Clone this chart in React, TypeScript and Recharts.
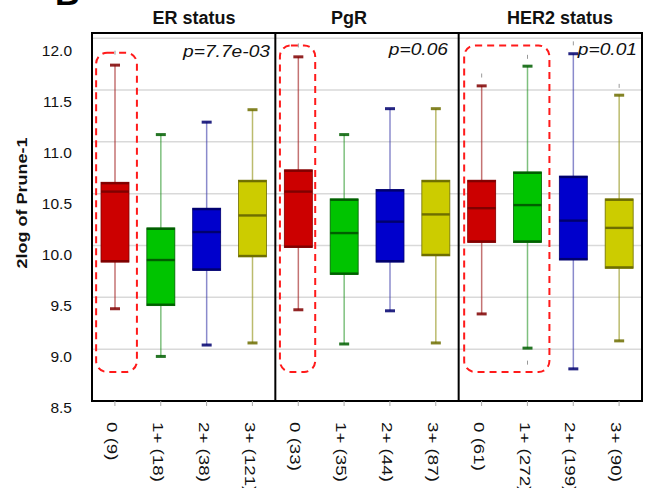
import React from 'react';
import {
  ComposedChart,
  Bar,
  XAxis,
  YAxis,
  CartesianGrid,
  ReferenceArea,
  ReferenceLine,
} from 'recharts';

// categories (score + group size) for ER status / PgR / HER2 status
const labels = [
  '0 (9)', '1+ (18)', '2+ (38)', '3+ (121)',
  '0 (33)', '1+ (35)', '2+ (44)', '3+ (87)',
  '0 (61)', '1+ (272)', '2+ (199)', '3+ (90)',
];

// box statistics, 2log of Prune-1
const mins = [9.39, 8.93, 9.04, 9.06, 9.38, 9.05, 9.37, 9.06, 9.34, 9.01, 8.81, 9.08];
const q1s = [9.84, 9.42, 9.76, 9.89, 9.98, 9.72, 9.84, 9.9, 10.03, 10.03, 9.86, 9.78];
const medians = [10.52, 9.86, 10.13, 10.29, 10.52, 10.12, 10.23, 10.3, 10.36, 10.39, 10.24, 10.17];
const q3s = [10.61, 10.17, 10.36, 10.63, 10.73, 10.45, 10.54, 10.63, 10.63, 10.71, 10.67, 10.45];
const maxs = [11.74, 11.07, 11.19, 11.31, 11.82, 11.07, 11.32, 11.32, 11.54, 11.73, 11.85, 11.45];
const outliers = [[11.86], [], [], [], [11.93], [], [], [], [11.64], [11.82, 8.87], [11.95], [11.54]];

const yTicks = [8.5, 9.0, 9.5, 10.0, 10.5, 11.0, 11.5, 12.0];

const panels = ['ER status', 'PgR', 'HER2 status'];
const pValues = ['p=7.7e-03', 'p=0.06', 'p=0.01'];

// highlighted groups (dashed red boxes), in category units / y values
const highlights = [
  { x1: 0.09, x2: 0.98, y1: 8.78, y2: 11.86 },
  { x1: 4.1, x2: 4.87, y1: 8.78, y2: 11.93 },
  { x1: 8.12, x2: 9.98, y1: 8.78, y2: 11.93 },
];

const data = labels.map((label, i) => ({
  label,
  pos: i + 0.5,
  range: [mins[i], maxs[i]],
  min: mins[i],
  q1: q1s[i],
  median: medians[i],
  q3: q3s[i],
  max: maxs[i],
  outliers: outliers[i],
}));

const palette = [
  { fill: '#cc0000', edge: '#800000', whisker: 'rgba(165,40,40,0.65)' },
  { fill: '#00c400', edge: '#005f00', whisker: 'rgba(40,150,40,0.6)' },
  { fill: '#0000cc', edge: '#00006e', whisker: 'rgba(60,60,170,0.6)' },
  { fill: '#cccc00', edge: '#6e6e00', whisker: 'rgba(150,150,30,0.65)' },
];

const FONT = '"Liberation Sans", Arial, sans-serif';

const BoxShape = (props: any) => {
  const { x, y, width, height, payload, index } = props;
  const d = payload;
  const k = height / (d.max - d.min);
  const py = (v: number) => y + (d.max - v) * k;
  const cx = x + width / 2;
  const c = palette[index % 4];
  const top = py(d.q3);
  const bot = py(d.q1);
  return (
    <g>
      <line x1={cx} x2={cx} y1={py(d.max)} y2={py(d.min)} stroke={c.whisker} strokeWidth={1.5} />
      <line x1={cx - 5} x2={cx + 5} y1={py(d.max)} y2={py(d.max)} stroke={c.edge} strokeWidth={3} opacity={0.85} />
      <line x1={cx - 5} x2={cx + 5} y1={py(d.min)} y2={py(d.min)} stroke={c.edge} strokeWidth={3} opacity={0.85} />
      <rect x={x} y={top} width={width} height={bot - top} fill={c.fill} stroke={c.edge} strokeWidth={0.8} />
      <line x1={x} x2={x + width} y1={top + 1} y2={top + 1} stroke={c.edge} strokeWidth={2.2} />
      <line x1={x} x2={x + width} y1={bot - 1} y2={bot - 1} stroke={c.edge} strokeWidth={2.2} />
      <line x1={x} x2={x + width} y1={py(d.median)} y2={py(d.median)} stroke={c.edge} strokeWidth={2.4} />
      {d.outliers.map((o: number, j: number) => (
        <line key={j} x1={cx} x2={cx} y1={py(o) - 2} y2={py(o) + 2} stroke="#999" strokeWidth={1} />
      ))}
    </g>
  );
};

const XTick = (props: any) => {
  const { x, y, payload } = props;
  return (
    <g transform={`translate(${x - 3},${y + 14})`}>
      <text
        transform="rotate(90) scale(1.25,1)"
        textAnchor="start"
        dominantBaseline="central"
        fontSize={15}
        fontFamily={FONT}
        fill="#111"
      >
        {payload.value}
      </text>
    </g>
  );
};

const YTick = (props: any) => {
  const { x, y, payload } = props;
  return (
    <text
      x={x}
      y={y + 6 + (payload.value - 8.5) * 1.7}
      textAnchor="end"
      dominantBaseline="central"
      fontSize={15.5}
      fontFamily={FONT}
      fill="#111"
    >
      {payload.value.toFixed(1)}
    </text>
  );
};

const DashedBox = (props: any) => {
  const { x, y, width, height } = props;
  return (
    <rect x={x} y={y} width={width} height={height} rx={11} ry={11}
      fill="none" stroke="#ff1a1a" strokeWidth={2} strokeDasharray="7 5" />
  );
};

export default function App() {
  return (
    <div style={{ position: 'absolute', left: 0, top: 0, width: 650, height: 488, background: '#fff' }}>
      <ComposedChart
        width={650}
        height={488}
        data={data}
        margin={{ top: 33, right: 8, left: 32, bottom: 0 }}
      >
        <CartesianGrid horizontal vertical={false} stroke="#d9d9d9" strokeWidth={1.5} />
        <XAxis
          dataKey="label"
          interval={0}
          height={87}
          axisLine={false}
          tickLine={{ stroke: '#aaa' }}
          tickSize={5}
          tick={<XTick />}
        />
        <XAxis xAxisId="num" dataKey="pos" type="number" domain={[0, 12]} allowDataOverflow hide />
        <YAxis
          type="number"
          domain={[8.5, 12.05]}
          ticks={yTicks}
          allowDataOverflow
          width={60}
          axisLine={false}
          tickLine={false}
          tickSize={0}
          tickMargin={20}
          tick={<YTick />}
        />
        {highlights.map((h, i) => (
          <ReferenceArea key={i} xAxisId="num" x1={h.x1} x2={h.x2} y1={h.y1} y2={h.y2} shape={<DashedBox />} />
        ))}
        <Bar dataKey="range" barSize={28} shape={<BoxShape />} isAnimationActive={false} />
        <ReferenceLine xAxisId="num" x={4} stroke="#000" strokeWidth={2} />
        <ReferenceLine xAxisId="num" x={8} stroke="#000" strokeWidth={2} />
        <ReferenceArea xAxisId="num" x1={0} x2={12} y1={8.5} y2={12.05} fill="none" fillOpacity={0} stroke="#000" strokeWidth={2} />
      </ComposedChart>
      <svg width={650} height={488} style={{ position: 'absolute', left: 0, top: 0, pointerEvents: 'none' }}>
        <text x={55} y={5} fontSize={34} fontWeight="bold" fontFamily={FONT}>B</text>
        {panels.map((t, i) => (
          <text key={t} x={[194, 349, 560][i]} y={24} textAnchor="middle" fontSize={18} fontWeight="bold" fontFamily={FONT} fill="#111">
            {t}
          </text>
        ))}
        {pValues.map((p, i) => (
          <text
            key={p}
            transform={`translate(${[270, 448, 637][i]},${[57, 55, 55][i]}) scale(1.2,1)`}
            textAnchor="end"
            fontSize={16}
            fontStyle="italic"
            fontFamily={FONT}
            fill="#111"
          >
            {p}
          </text>
        ))}
        <text
          transform="translate(27,203) rotate(-90) scale(1.2,1)"
          textAnchor="middle"
          fontSize={15}
          fontWeight="bold"
          fontFamily={FONT}
          fill="#111"
        >
          2log of Prune-1
        </text>
      </svg>
    </div>
  );
}
